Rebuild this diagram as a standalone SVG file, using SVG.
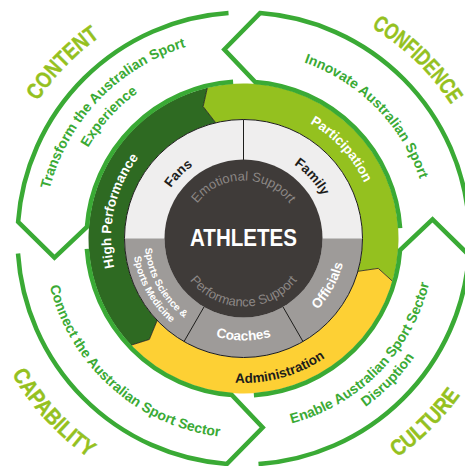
<svg xmlns="http://www.w3.org/2000/svg" width="465" height="466" viewBox="0 0 465 466">
<style>
text { font-family: "Liberation Sans", Arial, Helvetica, sans-serif; }
.title { font-size: 22.5px; font-weight: bold; fill: #95c11f; stroke: #95c11f; stroke-width: 0.4; }
.sub { font-size: 14px; font-weight: bold; fill: #3aaa35; }
.ring { font-size: 13.5px; font-weight: bold; fill: #ffffff; }
.dark { fill: #1d1d1b; }
.small { font-size: 10px; font-weight: bold; fill: #ffffff; }
.soft { font-size: 13px; fill: #8c8785; }
.band { fill: none; stroke: #3aaa35; stroke-width: 4.5; stroke-linejoin: miter; stroke-miterlimit: 10; }
.edge { fill: none; stroke: #1d1d1b; stroke-width: 0.8; }
</style>
<defs>
<path id="pContent" d="M -2.69 263.94 A 247.5 247.5 0 0 1 261.20 -8.37"/>
<path id="pConfidence" d="M 218.54 -7.24 A 247 247 0 0 1 489.84 256.59"/>
<path id="pCapability" d="M -22.70 203.45 A 268.5 268.5 0 0 0 255.21 506.74"/>
<path id="pCulture" d="M 218.33 504.81 A 267.5 267.5 0 0 0 510.14 217.05"/>
<path id="pTransform" d="M 44.69 260.27 A 200 200 0 0 1 256.58 38.93"/>
<path id="pExperience" d="M 65.16 262.93 A 180 180 0 0 1 250.41 58.63"/>
<path id="pInnovate" d="M 227.94 53.15 A 186 186 0 0 1 428.73 255.36"/>
<path id="pConnect" d="M 44.07 233.28 A 199.5 199.5 0 0 0 272.99 435.81"/>
<path id="pEnable" d="M 228.51 428.91 A 191 191 0 0 0 433.62 220.19"/>
<path id="pDisruption" d="M 263.80 445.51 A 208 208 0 0 0 450.89 254.46"/>
<path id="pHigh" d="M 138.38 319.16 A 132.5 132.5 0 0 1 182.32 120.97"/>
<path id="pParticipation" d="M 249.53 105.64 A 133 133 0 0 1 376.36 244.53"/>
<path id="pAdmin" d="M 172.35 364.27 A 144.5 144.5 0 0 0 369.27 309.65"/>
<path id="pFans" d="M 155.34 230.79 A 88.5 88.5 0 0 1 235.79 150.34"/>
<path id="pFamily" d="M 255.96 149.87 A 89.5 89.5 0 0 1 332.95 235.38"/>
<path id="pEmotional" d="M 186.38 228.43 A 58 58 0 0 1 300.62 228.43"/>
<path id="pPerformance" d="M 176.53 250.31 A 68 68 0 0 0 310.47 250.31"/>
<path id="pSci" d="M 146.16 220.46 A 99 99 0 0 0 208.83 331.23"/>
<path id="pMed" d="M 134.39 218.08 A 111 111 0 0 0 204.45 342.40"/>
<path id="pCoaches" d="M 192.5 326.83 A 102 102 0 0 0 294.5 326.83"/>
<path id="pOfficials" d="M 296.29 326.36 A 102.5 102.5 0 0 0 345.98 236.71"/>
</defs>
<rect x="0" y="0" width="465" height="466" fill="#ffffff"/>

<g id="ring-high-performance">
<path d="M 131.07 345.19 A 155 155 0 0 1 207.32 87.78 L 203.15 106.53 L 215.72 122.79 A 119 119 0 0 0 157.18 320.41 L 149.38 339.43 Z" fill="#2e6a22"/>
<text class="ring"><textPath href="#pHigh" startOffset="50%" text-anchor="middle">High Performance</textPath></text>
</g>
<g id="ring-participation">
<path d="M 207.32 87.78 A 155 155 0 0 1 392.50 281.22 L 378.23 268.37 L 357.89 271.30 A 119 119 0 0 0 215.72 122.79 L 203.15 106.53 Z" fill="#94c11f"/>
<text class="ring"><textPath href="#pParticipation" startOffset="50%" text-anchor="middle">Participation</textPath></text>
</g>
<g id="ring-administration">
<path d="M 392.50 281.22 A 155 155 0 0 1 131.07 345.19 L 149.38 339.43 L 157.18 320.41 A 119 119 0 0 0 357.89 271.30 L 378.23 268.37 Z" fill="#fdd034"/>
<text class="ring dark"><textPath href="#pAdmin" startOffset="50%" text-anchor="middle">Administration</textPath></text>
</g>
<g id="ring-edges">
<polyline class="edge" points="207.32,87.78 203.15,106.53 215.72,122.79"/>
<polyline class="edge" points="392.50,281.22 378.23,268.37 357.89,271.30"/>
<polyline class="edge" points="131.07,345.19 149.38,339.43 157.18,320.41"/>
</g>

<g id="support-ring">
<circle cx="243.5" cy="238.5" r="119" fill="#efeeee"/>
<path d="M 362.5 238.5 A 119 119 0 0 1 124.5 238.5 L 164.5 238.5 A 79 79 0 0 0 322.5 238.5 Z" fill="#9e9b99"/>
<line x1="243.5" y1="119.5" x2="243.5" y2="160" stroke="#1d1d1b" stroke-width="1"/>
<line x1="283" y1="306.92" x2="303" y2="341.56" stroke="#1d1d1b" stroke-width="1"/>
<line x1="204" y1="306.92" x2="184" y2="341.56" stroke="#1d1d1b" stroke-width="1"/>
<circle cx="243.5" cy="238.5" r="119" fill="none" stroke="#1d1d1b" stroke-width="1"/>
</g>
<g id="node-fans">
<text class="ring dark"><textPath href="#pFans" startOffset="50%" text-anchor="middle">Fans</textPath></text>
</g>
<g id="node-family">
<text class="ring dark"><textPath href="#pFamily" startOffset="50%" text-anchor="middle">Family</textPath></text>
</g>
<g id="node-sports-science">
<text class="small"><textPath href="#pSci" startOffset="50%" text-anchor="middle">Sports Science &amp;</textPath></text>
<text class="small"><textPath href="#pMed" startOffset="50%" text-anchor="middle">Sports Medicine</textPath></text>
</g>
<g id="node-coaches">
<text class="ring"><textPath href="#pCoaches" startOffset="50%" text-anchor="middle">Coaches</textPath></text>
</g>
<g id="node-officials">
<text class="ring"><textPath href="#pOfficials" startOffset="50%" text-anchor="middle">Officials</textPath></text>
</g>

<g id="node-athletes">
<circle cx="243.5" cy="238.5" r="79" fill="#3f3b39"/>
<text x="243.5" y="245.5" text-anchor="middle" font-size="23.5" font-weight="bold" fill="#ffffff" textLength="107" lengthAdjust="spacingAndGlyphs">ATHLETES</text>
<text class="soft"><textPath href="#pEmotional" startOffset="50%" text-anchor="middle">Emotional Support</textPath></text>
<text class="soft"><textPath href="#pPerformance" startOffset="50%" text-anchor="middle">Performance Support</textPath></text>
</g>

<g id="connectors">
<path id="band-confidence" class="band" d="M 469.00 223.52 A 226 226 0 0 0 260.05 13.11 L 224.30 49.47 L 255.00 81.92 A 157 157 0 0 1 400.15 228.10"/>
<path id="band-content" class="band" d="M 228.52 13.00 A 226 226 0 0 0 18.11 221.95 L 54.47 257.70 L 86.92 227.00 A 157 157 0 0 1 233.10 81.85"/>
<path id="band-capability" class="band" d="M 18.00 253.48 A 226 226 0 0 0 226.95 463.89 L 262.70 427.53 L 232.00 395.08 A 157 157 0 0 1 86.85 248.90"/>
<path id="band-culture" class="band" d="M 258.48 464.00 A 226 226 0 0 0 468.89 255.05 L 432.53 219.30 L 400.08 250.00 A 157 157 0 0 1 253.90 395.15"/>
</g>

<g id="node-content">
<text class="title"><textPath href="#pContent" startOffset="50%" text-anchor="middle" textLength="90" lengthAdjust="spacingAndGlyphs">CONTENT</textPath></text>
<text class="sub"><textPath href="#pTransform" startOffset="50%" text-anchor="middle">Transform the Australian Sport</textPath></text>
<text class="sub"><textPath href="#pExperience" startOffset="50%" text-anchor="middle">Experience</textPath></text>
</g>
<g id="node-confidence">
<text class="title"><textPath href="#pConfidence" startOffset="50%" text-anchor="middle" textLength="112" lengthAdjust="spacingAndGlyphs">CONFIDENCE</textPath></text>
<text class="sub"><textPath href="#pInnovate" startOffset="50%" text-anchor="middle">Innovate Australian Sport</textPath></text>
</g>
<g id="node-capability">
<text class="title"><textPath href="#pCapability" startOffset="50%" text-anchor="middle" textLength="114" lengthAdjust="spacingAndGlyphs">CAPABILITY</textPath></text>
<text class="sub"><textPath href="#pConnect" startOffset="50%" text-anchor="middle">Connect the Australian Sport Sector</textPath></text>
</g>
<g id="node-culture">
<text class="title"><textPath href="#pCulture" startOffset="50%" text-anchor="middle" textLength="89" lengthAdjust="spacingAndGlyphs">CULTURE</textPath></text>
<text class="sub"><textPath href="#pEnable" startOffset="50%" text-anchor="middle">Enable Australian Sport Sector</textPath></text>
<text class="sub"><textPath href="#pDisruption" startOffset="50%" text-anchor="middle">Disruption</textPath></text>
</g>
</svg>
